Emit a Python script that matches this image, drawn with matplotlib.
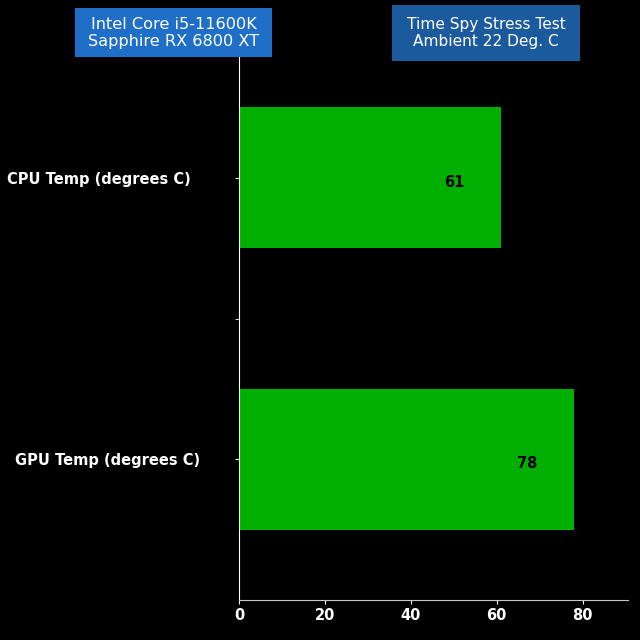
import matplotlib
matplotlib.use("Agg")
import matplotlib.pyplot as plt
from matplotlib.patches import Rectangle
from matplotlib.transforms import ScaledTranslation

categories = ["CPU Temp (degrees C)", "GPU Temp (degrees C)"]
values = [61, 78]
x_ticks = [0, 20, 40, 60, 80]
box_left = "Intel Core i5-11600K\nSapphire RX 6800 XT"
box_right = "Time Spy Stress Test\nAmbient 22 Deg. C"

fig = plt.figure(figsize=(6.4, 6.4), dpi=100, facecolor="black")
ax = fig.add_axes([0.3734, 0.0625, 0.981 - 0.3734, 0.942 - 0.0625])
ax.set_facecolor("black")

ypos = [1, 0]
ax.barh(ypos, values, height=0.5, color="#00b000", edgecolor="none")
for y, v in zip(ypos, values):
    ax.text(v - 11, y - 0.015, str(v), ha="center", va="center",
            fontsize=10.5, fontweight="bold", color="black")

ax.set_xlim(0, 90.5)
ax.set_ylim(-0.5, 1.5)
ax.set_xticks(x_ticks)
ax.set_yticks(ypos)
ax.set_yticklabels(categories)
ax.set_yticks([0.5], minor=True)
for lab in ax.get_xticklabels() + ax.get_yticklabels():
    lab.set_fontweight("bold")
    lab.set_color("white")
    lab.set_fontsize(10.5)
ax.tick_params(axis="x", colors="white", length=3, pad=3)
ax.tick_params(axis="y", colors="white", length=3, pad=32)
ax.tick_params(axis="y", which="minor", colors="white", length=3)
# GPU label sits a little further right in the reference
gpu_lab = ax.get_yticklabels()[1]
gpu_lab.set_transform(gpu_lab.get_transform() + ScaledTranslation(10 / 100, 0, fig.dpi_scale_trans))
for s in ["top", "right"]:
    ax.spines[s].set_visible(False)
ax.spines["left"].set_color("white")
ax.spines["bottom"].set_color("#c8c8c8")

# header boxes
fig.add_artist(Rectangle((75 / 640, 1 - 57 / 640), 197 / 640, 49 / 640,
                         transform=fig.transFigure, facecolor="#1f6fc8", edgecolor="none"))
fig.add_artist(Rectangle((392 / 640, 1 - 61 / 640), 188 / 640, 56 / 640,
                         transform=fig.transFigure, facecolor="#1c5a9e", edgecolor="none"))
fig.text(173.5 / 640, 1 - 33 / 640, box_left, ha="center", va="center", color="white",
         fontsize=11.6, linespacing=1.1)
fig.text(486 / 640, 1 - 33 / 640, box_right, ha="center", va="center", color="white",
         fontsize=11.1, linespacing=1.1)

fig.savefig("out.png", dpi=100, facecolor="black")
